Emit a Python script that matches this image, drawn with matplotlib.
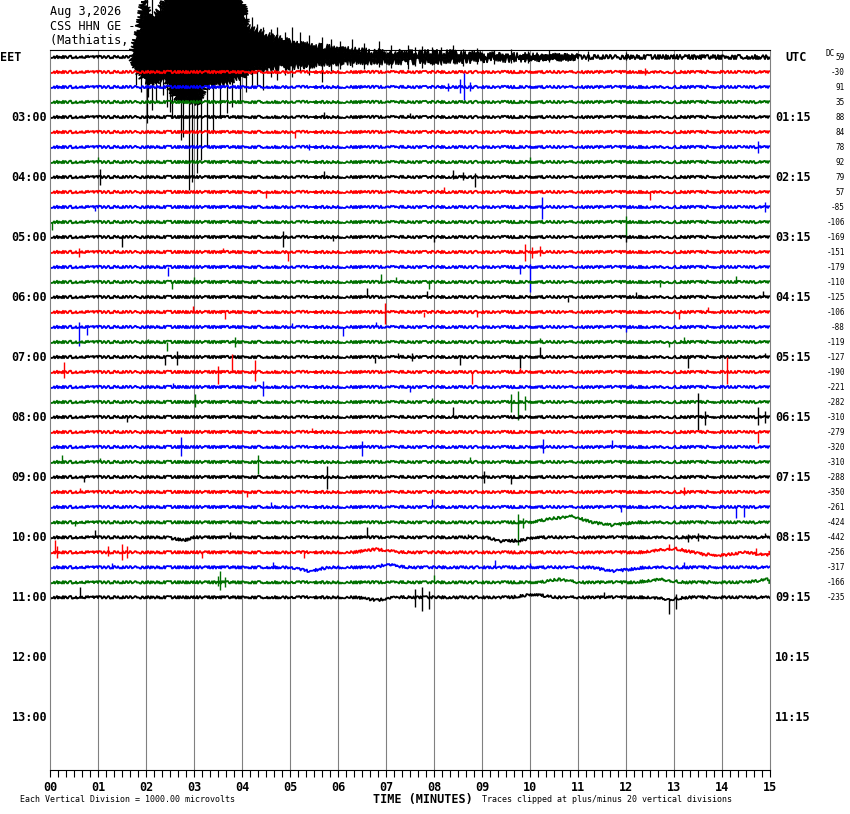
import numpy as np
import matplotlib.pyplot as plt

plt.rcParams['font.family'] = ['DejaVu Sans Mono', 'DejaVu Sans']

# helicorder CSS HHN GE, one 15 minute trace per row, starting 02:00 EET
start_hour = 2.0
trace_colors = ['#000000', '#ff0000', '#0000ff', '#007000']
dc_offsets = [59, -30, 91, 35, 88, 84, 78, 92, 79, 57, -85, -106, -169, -151,
              -179, -110, -125, -106, -88, -119, -127, -190, -221, -282, -310,
              -279, -320, -310, -288, -350, -261, -424, -442, -256, -317, -166,
              -235]
minute_labels = ['00', '01', '02', '03', '04', '05', '06', '07', '08', '09',
                 '10', '11', '12', '13', '14', '15']
label_hours = [3, 4, 5, 6, 7, 8, 9, 10, 11, 12, 13]
eet_labels = ['03:00', '04:00', '05:00', '06:00', '07:00', '08:00', '09:00',
              '10:00', '11:00', '12:00', '13:00']
utc_labels = ['01:15', '02:15', '03:15', '04:15', '05:15', '06:15', '07:15',
              '08:15', '09:15', '10:15', '11:15']

# amplitudes in pixels (15 px between two traces)
# earthquake on the first trace: envelope (minute, up, down)
quake_min = [1.70, 1.75, 1.85, 1.95, 2.10, 2.25, 2.45, 2.60, 3.10, 3.20, 3.60,
             4.00, 4.10, 4.50, 5.00, 5.50, 6.00, 6.70, 7.50, 8.50, 9.00, 10.0,
             11.0]
quake_up = [2, 10, 30, 57, 40, 45, 60, 65, 65, 65, 65, 62, 30, 22, 15, 11, 8,
            5, 4, 4, 2, 1, 0]
quake_down = [2, 6, 15, 22, 25, 22, 25, 40, 45, 30, 25, 20, 14, 12, 9, 7, 5,
              4, 4, 3, 2, 1, 0]
spike_min = [1.80, 1.90, 2.02, 2.05, 2.13, 2.20, 2.30, 2.35, 2.44, 2.50, 2.55,
             2.72, 2.78, 2.90, 2.95, 3.06, 3.15, 3.27, 3.40, 3.55, 3.69, 3.80,
             3.96, 4.08, 4.20, 4.32, 4.44, 4.60, 4.72, 4.90, 5.05, 5.20, 5.40,
             5.67, 5.85, 6.05, 6.30, 6.55, 6.85, 7.10, 7.45, 7.60, 7.75, 7.95,
             8.15, 8.40, 8.60, 8.90, 9.25, 9.60, 9.95, 10.4, 11.2, 12.0]
spike_up = [20, 45, 60, 50, 60, 40, 57, 45, 40, 50, 55, 0, 0, 0, 0, 0, 0, 0,
            0, 0, 0, 0, 0, 45, 40, 33, 30, 28, 30, 25, 30, 25, 22, 20, 18, 16,
            18, 14, 16, 12, 12, 10, 11, 10, 10, 12, 8, 9, 7, 8, 6, 7, 6, 5]
spike_down = [28, 35, 66, 40, 53, 45, 30, 38, 50, 55, 60, 83, 80, 133, 125,
              116, 103, 90, 76, 60, 56, 50, 46, 35, 30, 28, 33, 20, 23, 18, 20,
              15, 18, 25, 14, 12, 10, 12, 10, 11, 12, 9, 11, 8, 8, 6, 9, 7, 7,
              6, 6, 5, 4, 3]

# other traces: (minute, up, down)
row_events = [
    [],
    [(12.4, 4, 3)],
    [(8.3, 4, 4), (8.55, 8, 6), (8.62, 14, 13), (8.75, 5, 4)],
    [],
    [(5.7, 5, 0), (7.5, 4, 0)],
    [(5.1, 0, 6)],
    [(5.4, 3, 3), (14.75, 6, 6)],
    [(1.0, 5, 0), (10.0, 5, 0)],
    [(1.04, 8, 8), (5.7, 6, 0), (8.4, 7, 2), (8.6, 5, 3), (8.85, 4, 10)],
    [(4.5, 0, 6), (8.2, 5, 0), (12.5, 0, 8)],
    [(0.94, 0, 4), (10.25, 10, 12), (14.9, 5, 5)],
    [(0.05, 0, 8), (12.0, 6, 14)],
    [(1.5, 0, 10), (4.85, 6, 10), (5.9, 0, 4), (8.0, 0, 5), (12.0, 0, 5)],
    [(0.6, 4, 5), (3.6, 4, 0), (4.95, 0, 9), (9.9, 8, 9), (10.05, 5, 6),
     (10.2, 6, 4)],
    [(2.45, 0, 9), (9.8, 0, 7), (10.0, 3, 25)],
    [(2.55, 0, 7), (3.0, 5, 2), (6.9, 8, 0), (7.2, 5, 0), (7.9, 2, 7),
     (12.7, 0, 5), (14.3, 6, 0)],
    [(6.6, 9, 0), (7.85, 6, 0), (10.8, 0, 5), (12.2, 5, 0), (14.85, 6, 0)],
    [(2.98, 6, 0), (3.65, 0, 7), (6.98, 9, 12), (7.8, 0, 5), (8.9, 0, 5),
     (13.1, 0, 7), (13.7, 5, 0)],
    [(0.6, 5, 19), (0.77, 0, 8), (5.05, 4, 0), (6.1, 0, 9), (6.8, 5, 0),
     (12.0, 0, 5)],
    [(2.04, 3, 0), (2.43, 0, 9), (3.85, 5, 5), (10.2, 4, 0), (12.9, 0, 5),
     (13.2, 5, 0)],
    [(2.4, 0, 8), (2.65, 6, 8), (6.77, 0, 6), (7.25, 4, 0), (7.55, 4, 4),
     (8.55, 0, 8), (9.8, 0, 11), (10.2, 10, 0), (13.3, 0, 11), (14.9, 4, 0)],
    [(0.3, 10, 6), (3.5, 6, 12), (3.8, 18, 0), (4.27, 12, 9), (8.8, 0, 12),
     (9.8, 4, 0), (14.1, 15, 12)],
    [(2.56, 4, 0), (4.44, 6, 9), (7.5, 0, 5), (12.1, 3, 0)],
    [(3.02, 8, 5), (7.95, 4, 0), (9.6, 8, 10), (9.75, 11, 18), (9.9, 6, 8)],
    [(1.6, 0, 5), (8.4, 10, 0), (13.5, 24, 13), (13.65, 6, 8), (14.75, 10, 8),
     (14.9, 6, 6)],
    [(5.45, 4, 0), (14.75, 0, 11)],
    [(2.72, 10, 9), (6.5, 6, 9), (10.28, 8, 6), (11.7, 7, 0)],
    [(0.25, 7, 0), (1.04, 4, 0), (4.33, 7, 12), (8.75, 5, 0)],
    [(0.7, 0, 5), (5.77, 11, 12), (9.05, 6, 6), (9.6, 0, 7)],
    [(0.63, 4, 0), (4.1, 0, 5), (13.2, 5, 3)],
    [(4.6, 5, 0), (7.95, 8, 0), (11.9, 0, 5), (14.3, 0, 11), (14.45, 0, 10)],
    [(0.52, 0, 4), (9.75, 8, 23), (9.85, 4, 6)],
    [(0.94, 7, 0), (3.75, 5, 0), (6.6, 10, 0), (8.7, 3, 0), (13.3, 3, 5),
     (13.5, 4, 4), (14.9, 4, 0)],
    [(0.1, 12, 0), (0.15, 6, 6), (1.2, 6, 4), (1.5, 8, 8), (1.6, 6, 6),
     (3.17, 0, 6), (5.3, 0, 6), (12.9, 5, 0), (14.7, 6, 0)],
    [(1.3, 4, 0), (4.65, 5, 0), (9.27, 7, 0), (10.0, 4, 0), (13.2, 5, 0)],
    [(3.5, 6, 4), (3.55, 11, 8), (3.65, 5, 5), (8.0, 7, 0)],
    [(0.63, 10, 0), (7.6, 8, 10), (7.75, 10, 14), (7.9, 6, 12), (11.55, 5, 0),
     (12.9, 0, 15), (13.05, 5, 10)],
]

# slow baseline drift on the late traces: (minute, shift up)
row_drift = {
    31: [(10.0, 0), (10.5, 4), (10.9, 6), (11.3, 0), (11.7, -3), (12.2, 0)],
    32: [(2.4, 0), (2.8, -3), (3.0, 0), (9.1, 0), (9.4, -4), (9.8, -3), (10.1, 0)],
    33: [(6.3, 0), (6.8, 3), (7.3, 0), (12.3, 0), (13.0, 4), (13.6, -2),
         (14.0, -3), (14.5, 0), (14.95, -3)],
    34: [(5.0, 0), (5.4, -4), (5.8, 0), (6.8, 0), (7.0, 3), (7.4, 0),
         (11.3, 0), (11.7, -4), (12.1, -2), (12.4, 0)],
    35: [(10.2, 0), (10.6, 3), (11.0, 0), (12.2, 0), (12.7, 3), (13.2, 0),
         (14.5, 0), (14.95, 3)],
    36: [(6.4, 0), (6.8, -3), (7.2, 0), (9.6, 0), (10.1, 3), (10.5, 0),
         (12.5, 0), (12.9, -2), (13.3, 0)],
}

px = 0.25 / 15.0          # hours per pixel of the original
W, H = 850, 814
noisy = (1.3, 2.0, 3.0)   # sketch style to give the traces a seismic look

fig = plt.figure(figsize=(W / 100, H / 100), dpi=100)
ax = fig.add_axes([50 / W, 44 / H, 720 / W, 720 / H])
ax.set_xlim(0, 15)
ax.set_ylim(start_hour + 712.7 / 60, start_hour - 7.3 / 60)

for s in ['left', 'right']:
    ax.spines[s].set_color('#808080')
for s in ['top', 'bottom']:
    ax.spines[s].set_color('black')
for s in ax.spines.values():
    s.set_linewidth(0.8)

ax.vlines(np.arange(1, 15), *ax.get_ylim(), color='#808080', lw=0.8, zorder=1)

ax.set_xticks(np.arange(16))
ax.set_xticklabels(minute_labels, fontweight='bold', fontsize=8.5)
ax.set_xticks(np.arange(0, 15.01, 1 / 6), minor=True)
ax.tick_params(axis='x', which='both', direction='out', length=5, width=0.8,
               pad=3)
ax.set_yticks([])

# first trace: quiet start, the earthquake, then its coda
base0 = start_hour
ln, = ax.plot([0, quake_min[0]], [base0, base0], color=trace_colors[0],
              lw=1.3, zorder=2)
ln.set_sketch_params(*noisy)
ln, = ax.plot([quake_min[-2], 15], [base0, base0], color=trace_colors[0],
              lw=1.3, zorder=2)
ln.set_sketch_params(2.2, 2.0, 3.0)
qm = np.array(quake_min)
poly_x = np.concatenate([qm, qm[::-1]])
poly_y = np.concatenate([base0 - np.array(quake_up) * px,
                         (base0 + np.array(quake_down) * px)[::-1]])
for p in ax.fill(poly_x, poly_y, color=trace_colors[0], lw=1.0,
                 clip_on=False, zorder=2):
    p.set_sketch_params(4.0, 2.5, 2.0)
ax.vlines(spike_min, base0 - np.array(spike_up) * px,
          base0 + np.array(spike_down) * px, color=trace_colors[0], lw=0.9,
          clip_on=False, zorder=2)

for k in range(1, len(dc_offsets)):
    base = start_hour + k * 0.25
    col = trace_colors[k % 4]
    drift = row_drift.get(k, [])
    dm = [0.0] + [d[0] for d in drift] + [15.0]
    ds = [0.0] + [d[1] for d in drift] + [0.0]
    ln, = ax.plot(dm, base - np.array(ds) * px, color=col, lw=1.3,
                  zorder=2 + k * 0.01)
    ln.set_sketch_params(*noisy)
    if row_events[k]:
        em = np.array([e[0] for e in row_events[k]])
        eu = np.array([e[1] for e in row_events[k]])
        ed = np.array([e[2] for e in row_events[k]])
        sh = np.interp(em, dm, ds)
        ax.vlines(em, base - (sh + eu) * px, base - (sh - ed) * px, color=col,
                  lw=1.0, zorder=2 + k * 0.01)

# labels tied to the hours
ytr = ax.get_yaxis_transform()
for h, l, r in zip(label_hours, eet_labels, utc_labels):
    ax.text(-0.004, h, l, transform=ytr, ha='right', va='center',
            fontsize=8.5, fontweight='bold')
    ax.text(1.007, h, r, transform=ytr, ha='left', va='center',
            fontsize=8.5, fontweight='bold')
ax.text(-50 / 720, start_hour, 'EET', transform=ytr, ha='left', va='center',
        fontsize=8.5, fontweight='bold')
ax.text(1.021, start_hour, 'UTC', transform=ytr, ha='left', va='center',
        fontsize=8.5, fontweight='bold')
for k, dc in enumerate(dc_offsets):
    ax.text(795 / 720, start_hour + k * 0.25, str(dc), transform=ytr,
            ha='right', va='center', fontsize=5.5)
ax.text(776 / 720, start_hour - 4 * px, 'DC', transform=ytr, ha='left',
        va='center', fontsize=5.5)

# header and footer
def ftext(x, y, s, **kw):
    fig.text(x / W, 1 - y / H, s, va='center', zorder=-1, **kw)

ftext(50, 11, 'Aug 3,2026', fontsize=8.5)
ftext(50, 26, 'CSS HHN GE --', fontsize=8.5)
ftext(50, 41, '(Mathiatis, L', fontsize=8.5)
ftext(20, 800, 'Each Vertical Division = 1000.00 microvolts', fontsize=6)
ftext(373, 799, 'TIME (MINUTES)', fontsize=8.5, fontweight='bold')
ftext(482, 800, 'Traces clipped at plus/minus 20 vertical divisions',
      fontsize=6)

fig.savefig('out.png', dpi=100)
